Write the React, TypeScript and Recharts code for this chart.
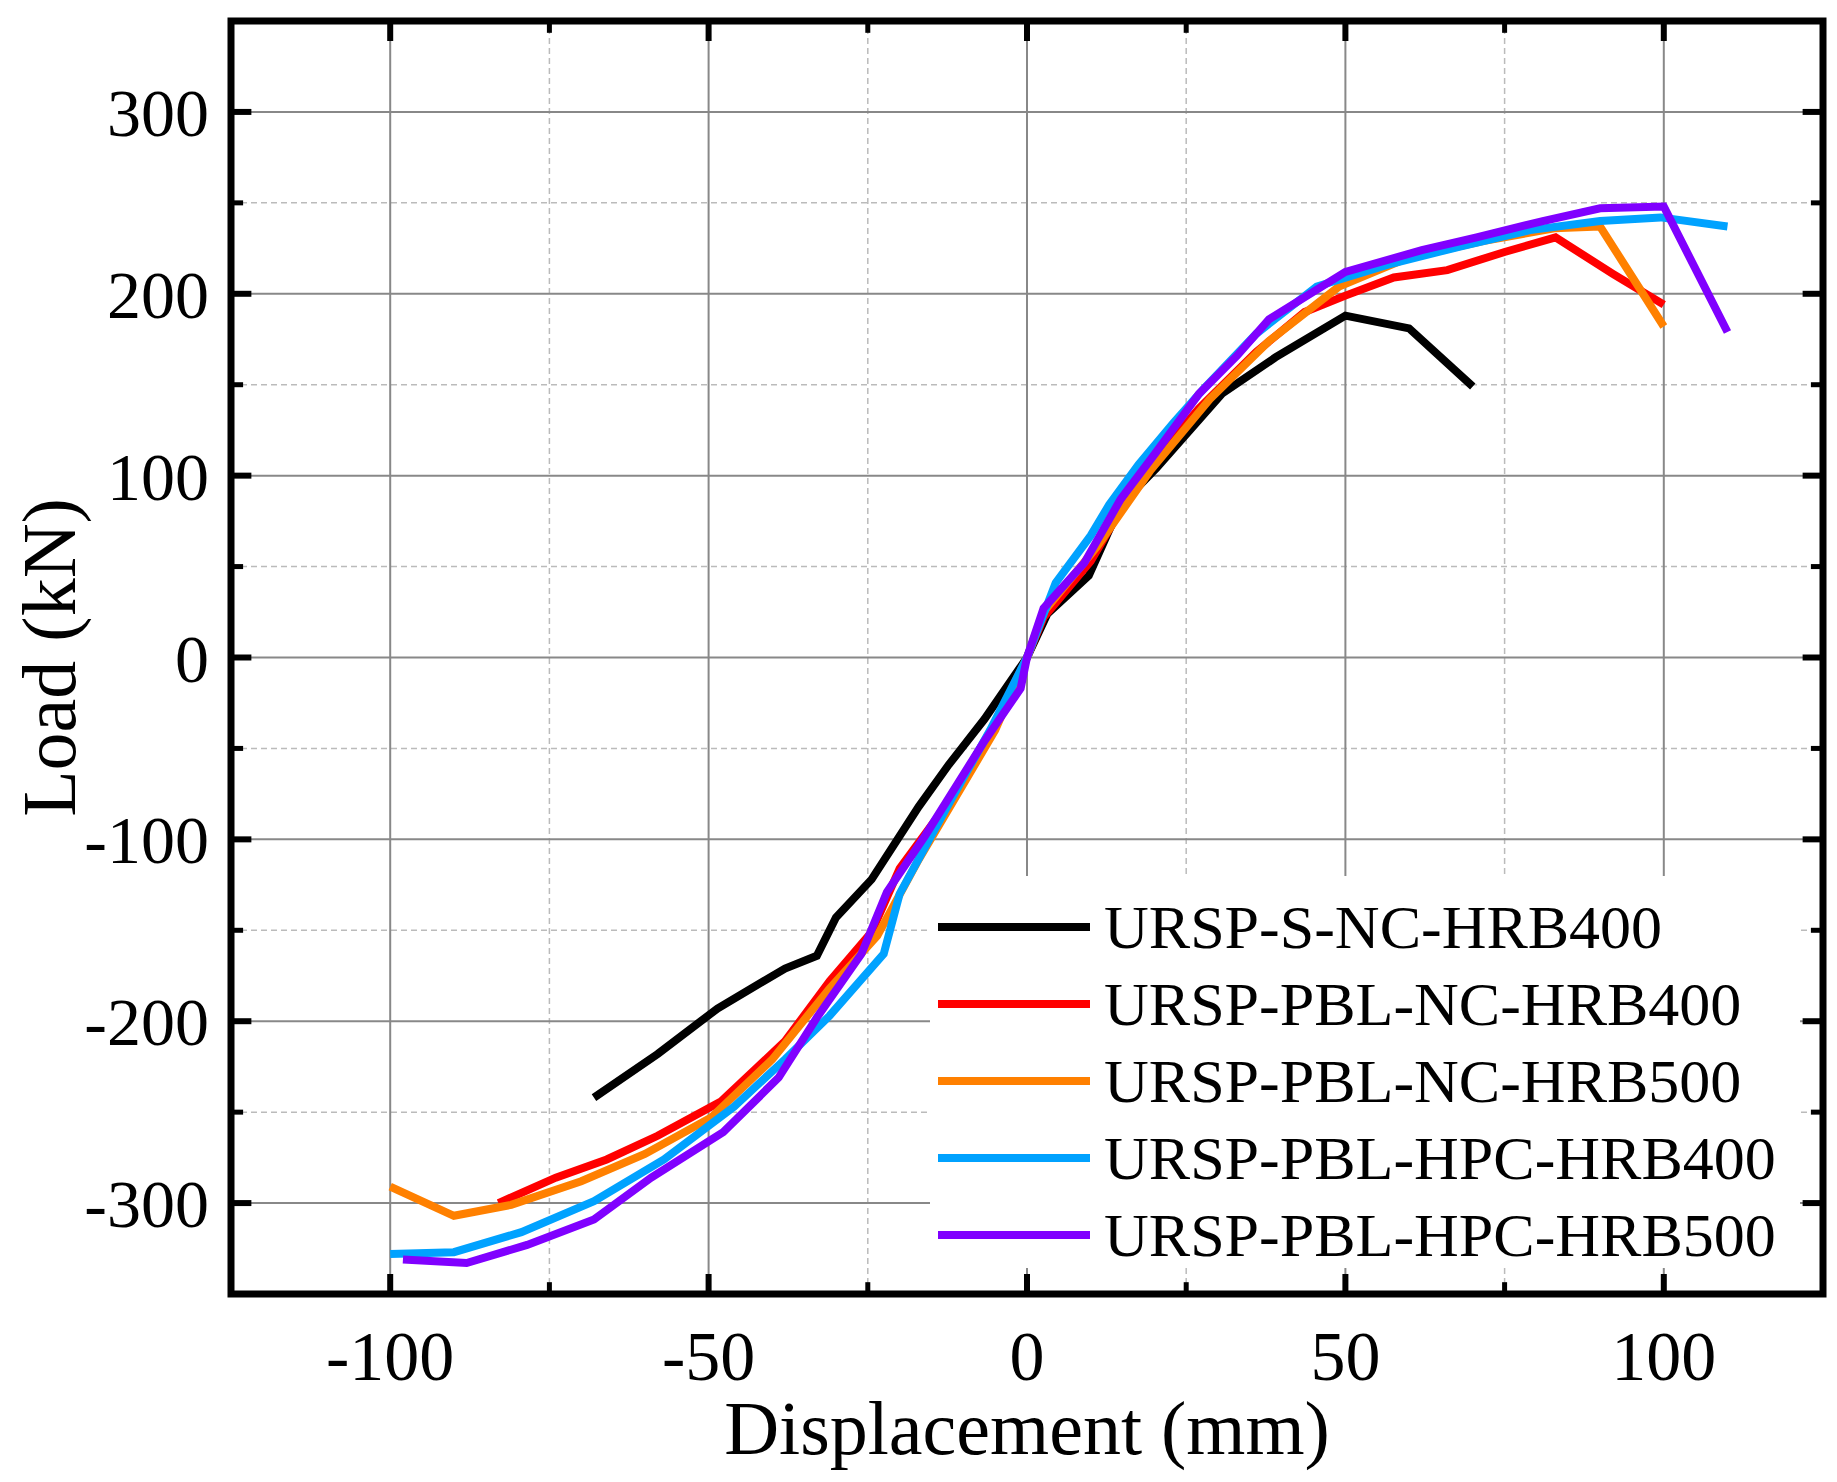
import React from "react";
import { LineChart, Line, XAxis, YAxis, ReferenceLine, ReferenceArea } from "recharts";

const black = [[-68,-242],[-58,-218],[-48.6,-193],[-38,-171],[-33,-164],[-30,-143],[-24.4,-122],[-17,-82],[-12.3,-59],[-6.7,-34],[0,0],[3.2,24],[9.7,45],[14.7,84],[20.3,104],[30.6,145],[39,165],[50,188],[60,181],[70,149]];
const red = [[-83,-300],[-74,-286],[-66,-276],[-58,-263],[-48,-244],[-38,-211],[-31,-178],[-24.4,-151],[-20,-116],[-12,-78],[-5,-36],[0,0],[2.6,22],[10,53],[17.5,98],[27,137],[36,168],[43.6,190],[50,199],[57.6,209],[66,213],[75,223],[83,231],[92,211],[100,194]];
const orange = [[-100,-291],[-90,-307],[-81,-301],[-70,-288],[-60,-273],[-49.6,-253],[-40,-221],[-31,-182],[-23.5,-153],[-17,-111],[-10.4,-72],[-5,-40],[0,0],[2.6,25],[11,61],[19.4,103],[28.7,142],[38,174],[49,204],[60,220],[71.6,229],[82.8,236],[90,237],[100,182]];
const cyan = [[-100,-328],[-90,-327],[-79.4,-316],[-68,-299],[-57,-276],[-46,-247],[-38,-221],[-31,-197],[-22.5,-163],[-20,-130],[-13,-85],[-5.8,-40],[0,0],[4.5,41],[10,67],[12.9,84],[17.5,106],[23,129],[27.8,148],[36,178],[45.5,204],[56.7,216],[68,226],[79,235],[90,240],[99.5,242],[110,237]];
const purple = [[-98,-331],[-88,-333],[-78.5,-323],[-68,-309],[-59,-286],[-47.7,-261],[-39,-231],[-33,-198],[-26,-163],[-22,-129],[-16,-98],[-6.7,-46],[-1,-17],[0,0],[2.6,27],[9,52],[14.7,87],[20.3,113],[27,145],[33,166],[38,186],[50,212],[62,224],[70.6,231],[81,240],[90,247],[100,248],[110,179]];

const series = [
  { name: "URSP-S-NC-HRB400", color: "#000000", pts: black },
  { name: "URSP-PBL-NC-HRB400", color: "#ff0000", pts: red },
  { name: "URSP-PBL-NC-HRB500", color: "#ff8000", pts: orange },
  { name: "URSP-PBL-HPC-HRB400", color: "#00a2ff", pts: cyan },
  { name: "URSP-PBL-HPC-HRB500", color: "#8000ff", pts: purple },
];

const xMajor = [-100, -50, 0, 50, 100];
const xMinor = [-75, -25, 25, 75];
const yMajor = [-300, -200, -100, 0, 100, 200, 300];
const yMinor = [-250, -150, -50, 50, 150, 250];
const font = "'Liberation Serif', 'Times New Roman', serif";

export default function App() {
  const xl = 3.2, xs = 1.9, yl = 11, ys = 6.5;
  return (
    <div style={{ position: "absolute", left: 0, top: 0 }}>
      <LineChart width={1837} height={1482} margin={{ top: 21, right: 14, left: 0, bottom: 0 }}>
        <XAxis type="number" dataKey="x" domain={[-125, 125]} ticks={xMajor} allowDataOverflow
          axisLine={false} tickLine={false} height={188} tickMargin={30}
          tick={{ fontSize: 70, fill: "#000", fontFamily: font }}
          label={{ value: "Displacement (mm)", position: "insideBottom", offset: 28, fontSize: 76, fill: "#000", fontFamily: font }} />
        <YAxis type="number" dataKey="y" domain={[-350, 350]} ticks={yMajor} allowDataOverflow
          axisLine={false} tickLine={false} width={231} tickMargin={16}
          tick={{ fontSize: 68, fill: "#000", fontFamily: font }}
          label={{ value: "Load (kN)", angle: -90, position: "insideLeft", offset: 48, fontSize: 76, fill: "#000", fontFamily: font, style: { textAnchor: "middle" } }} />
        {xMinor.map(v => <ReferenceLine key={"xm" + v} x={v} stroke="#bbb" strokeDasharray="6 4" strokeWidth={1.5} />)}
        {yMinor.map(v => <ReferenceLine key={"ym" + v} y={v} stroke="#bbb" strokeDasharray="6 4" strokeWidth={1.5} />)}
        {xMajor.map(v => <ReferenceLine key={"xM" + v} x={v} stroke="#888" strokeWidth={2} />)}
        {yMajor.map(v => <ReferenceLine key={"yM" + v} y={v} stroke="#888" strokeWidth={2} />)}
        {series.map(s => (
          <Line key={s.name} data={s.pts.map(([x, y]) => ({ x, y }))} dataKey="y" type="linear"
            stroke={s.color} strokeWidth={8} dot={false} isAnimationActive={false} />
        ))}
        {xMajor.map(v => <ReferenceLine key={"tb" + v} segment={[{ x: v, y: -350 }, { x: v, y: -350 + yl }]} stroke="#000" strokeWidth={6} />)}
        {xMajor.map(v => <ReferenceLine key={"tt" + v} segment={[{ x: v, y: 350 }, { x: v, y: 350 - yl }]} stroke="#000" strokeWidth={6} />)}
        {xMinor.map(v => <ReferenceLine key={"tbm" + v} segment={[{ x: v, y: -350 }, { x: v, y: -350 + ys }]} stroke="#000" strokeWidth={5} />)}
        {xMinor.map(v => <ReferenceLine key={"ttm" + v} segment={[{ x: v, y: 350 }, { x: v, y: 350 - ys }]} stroke="#000" strokeWidth={5} />)}
        {yMajor.map(v => <ReferenceLine key={"tl" + v} segment={[{ x: -125, y: v }, { x: -125 + xl, y: v }]} stroke="#000" strokeWidth={6} />)}
        {yMajor.map(v => <ReferenceLine key={"tr" + v} segment={[{ x: 125, y: v }, { x: 125 - xl, y: v }]} stroke="#000" strokeWidth={6} />)}
        {yMinor.map(v => <ReferenceLine key={"tlm" + v} segment={[{ x: -125, y: v }, { x: -125 + xs, y: v }]} stroke="#000" strokeWidth={5} />)}
        {yMinor.map(v => <ReferenceLine key={"trm" + v} segment={[{ x: 125, y: v }, { x: 125 - xs, y: v }]} stroke="#000" strokeWidth={5} />)}
        <ReferenceArea x1={-125} x2={125} y1={-350} y2={350} fill="none" stroke="#000" strokeWidth={7} ifOverflow="visible" />
      </LineChart>
      <div style={{ position: "absolute", left: 930, top: 876, width: 870, height: 392, background: "#fff", fontFamily: font, fontSize: 62, boxSizing: "border-box", paddingTop: 12, paddingLeft: 8 }}>
        {series.map(s => (
          <div key={s.name} style={{ display: "flex", alignItems: "center", height: 77 }}>
            <div style={{ width: 152, height: 8, background: s.color, marginRight: 14 }} />
            <span style={{ lineHeight: 1 }}>{s.name}</span>
          </div>
        ))}
      </div>
    </div>
  );
}
